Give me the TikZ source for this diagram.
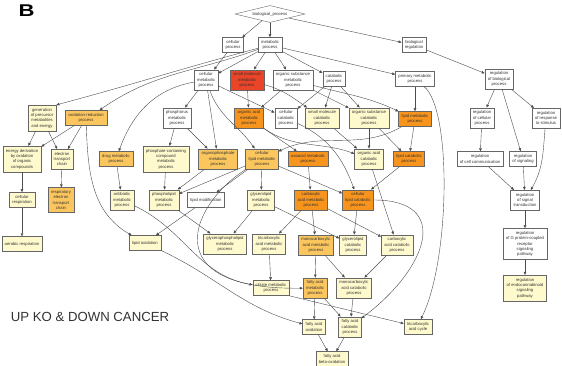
\documentclass[tikz,border=0pt]{standalone}
\usepackage{fontspec}
\setmainfont{Liberation Sans}
\usetikzlibrary{shapes.geometric,arrows.meta,shadows}
\definecolor{goyellow}{HTML}{FFFACD}
\definecolor{golight}{HTML}{FCC65E}
\definecolor{goorange}{HTML}{F7941E}
\definecolor{gored}{HTML}{EA4429}
\begin{document}
\begin{tikzpicture}[x=1pt,y=1pt,
	box/.style={draw=black!60,line width=0.4pt,align=center,font=\fontsize{4.2}{5.3}\selectfont,text=black!80,inner xsep=3pt,inner ysep=3pt,minimum height=15pt,drop shadow={shadow xshift=0.6pt,shadow yshift=-0.6pt,fill=black!40,opacity=1}},
	wbox/.style={box,fill=white},
	ybox/.style={box,fill=goyellow},
	lbox/.style={box,fill=golight},
	obox/.style={box,fill=goorange},
	rbox/.style={box,fill=gored},
	dia/.style={diamond,aspect=4,draw=black!60,line width=0.4pt,fill=white,font=\fontsize{4.2}{5.3}\selectfont,text=black!80,inner sep=0pt,minimum width=70pt,minimum height=17pt},
	arr/.style={draw=black!70,line width=0.4pt,-{Triangle[length=3pt,width=2.6pt]}}]
	\fill[white] (0,0) rectangle (562,-365);
	\useasboundingbox (0,0) rectangle (562,-365);
	\node[font=\fontsize{17}{20}\selectfont\bfseries,xscale=1.3] (panel) at (26.5,-11) {B};
	\node[font=\fontsize{13.2}{15}\selectfont,text=black!80] (cond) at (90,-317) {UP KO \& DOWN CANCER};
	\node[dia] (bp) at (270,-14) {biological\_process};
	\node[wbox] (cp) at (233,-45) {cellular\\process};
	\node[wbox] (mp) at (270,-45) {metabolic\\process};
	\node[wbox] (br) at (414,-45) {biological\\regulation};
	\node[wbox] (cmp) at (206,-80) {cellular\\metabolic\\process};
	\node[rbox] (smm) at (247,-80) {small molecule\\metabolic\\process};
	\node[wbox] (osm) at (293,-80) {organic substance\\metabolic\\process};
	\node[wbox] (cat) at (334,-79) {catabolic\\process};
	\node[wbox] (pm) at (415,-79) {primary metabolic\\process};
	\node[wbox] (rbp) at (499,-79) {regulation\\of biological\\process};
	\node[ybox] (gen) at (42,-118) {generation\\of precursor\\metabolites\\and energy};
	\node[lbox] (oxr) at (86,-118) {oxidation-reduction\\process};
	\node[wbox] (phm) at (177,-118) {phosphorus\\metabolic\\process};
	\node[obox] (oam) at (249,-118) {organic acid\\metabolic\\process};
	\node[wbox] (ccat) at (286,-118) {cellular\\catabolic\\process};
	\node[ybox] (smc) at (322,-118) {small molecule\\catabolic\\process};
	\node[ybox] (osc) at (369,-118) {organic substance\\catabolic\\process};
	\node[obox] (lm) at (415,-119) {lipid metabolic\\process};
	\node[wbox] (rcp) at (482,-118) {regulation\\of cellular\\process};
	\node[wbox] (rrs) at (546,-118) {regulation\\of response\\to stimulus};
	\node[ybox] (edo) at (22,-159) {energy derivation\\by oxidation\\of organic\\compounds};
	\node[ybox] (etc) at (62,-159) {electron\\transport\\chain};
	\node[lbox] (drug) at (116,-159) {drug metabolic\\process};
	\node[ybox] (pcc) at (166,-159) {phosphate-containing\\compound\\metabolic\\process};
	\node[lbox] (orgp) at (218,-159) {organophosphate\\metabolic\\process};
	\node[lbox] (clm) at (262,-159) {cellular\\lipid metabolic\\process};
	\node[obox] (oxo) at (308,-159) {oxoacid metabolic\\process};
	\node[ybox] (oac) at (369,-159) {organic acid\\catabolic\\process};
	\node[obox] (lc) at (409,-159) {lipid catabolic\\process};
	\node[wbox] (rcc) at (480,-159) {regulation\\of cell communication};
	\node[wbox] (rsig) at (523,-159) {regulation\\of signaling};
	\node[ybox] (cr) at (22,-200) {cellular\\respiration};
	\node[lbox] (retc) at (61,-200) {respiratory\\electron\\transport\\chain};
	\node[ybox] (abm) at (122,-200) {antibiotic\\metabolic\\process};
	\node[ybox] (plm) at (164,-200) {phospholipid\\metabolic\\process};
	\node[wbox] (lmod) at (206,-200) {lipid modification};
	\node[ybox] (glm) at (261,-200) {glycerolipid\\metabolic\\process};
	\node[obox] (cam) at (311,-200) {carboxylic\\acid metabolic\\process};
	\node[obox] (clc) at (358,-200) {cellular\\lipid catabolic\\process};
	\node[wbox] (rst) at (525,-200) {regulation\\of signal\\transduction};
	\node[ybox] (aer) at (22,-244) {aerobic respiration};
	\node[ybox] (lox) at (145,-243) {lipid oxidation};
	\node[ybox] (gplm) at (225,-244) {glycerophospholipid\\metabolic\\process};
	\node[ybox] (tcam) at (269,-244) {tricarboxylic\\acid metabolic\\process};
	\node[lbox] (mcam) at (316,-245) {monocarboxylic\\acid metabolic\\process};
	\node[ybox] (glc) at (353,-245) {glycerolipid\\catabolic\\process};
	\node[ybox] (cac) at (397,-245) {carboxylic\\acid catabolic\\process};
	\node[wbox] (rgpcr) at (525,-244) {regulation\\of G protein-coupled\\receptor\\signaling\\pathway};
	\node[ybox] (cit) at (271,-288) {citrate metabolic\\process};
	\node[lbox] (fam) at (315,-288) {fatty acid\\metabolic\\process};
	\node[ybox] (mcac) at (354,-288) {monocarboxylic\\acid catabolic\\process};
	\node[ybox] (recb) at (525,-288) {regulation\\of endocannabinoid\\signaling\\pathway};
	\node[ybox] (fao) at (314,-327) {fatty acid\\oxidation};
	\node[ybox] (fac) at (350,-327) {fatty acid\\catabolic\\process};
	\node[ybox] (tcac) at (418,-327) {tricarboxylic\\acid cycle};
	\node[ybox] (fab) at (332,-359) {fatty acid\\beta-oxidation};
	\draw[arr] (bp) -- (cp);
	\draw[arr] (bp) -- (mp);
	\draw[arr] (bp) -- (br);
	\draw[arr] (cp) -- (cmp);
	\draw[arr] (mp) -- (cmp);
	\draw[arr] (mp) -- (smm);
	\draw[arr] (mp) -- (osm);
	\draw[arr] (mp) -- (cat);
	\draw[arr] (mp) -- (pm);
	\draw[arr] (mp) to[out=195,in=15] (gen.north east);
	\draw[arr] (mp) to[out=200,in=35] (oxr.30);
	\draw[arr] (cmp) to[out=190,in=70] (drug);
	\draw[arr] (br) -- (rbp);
	\draw[arr] (gen) -- (edo);
	\draw[arr] (gen) -- (etc);
	\draw[arr] (oxr) -- (edo);
	\draw[arr] (oxr) -- (etc);
	\draw[arr] (oxr) to[out=-88,in=150] (lox);
	\draw[arr] (edo) -- (cr);
	\draw[arr] (cr) -- (aer);
	\draw[arr] (etc) -- (retc);
	\draw[arr] (drug) -- (abm);
	\draw[arr] (abm) to[out=-25,in=170] (cit);
	\draw[arr] (cmp) -- (phm);
	\draw[arr] (cmp) -- (orgp);
	\draw[arr] (cmp) to[out=-70,in=125] (clm);
	\draw[arr] (cmp) -- (ccat);
	\draw[arr] (smm) -- (oam);
	\draw[arr] (smm) to[out=-15,in=145] (smc);
	\draw[arr] (osm) -- (oam);
	\draw[arr] (osm) -- (osc);
	\draw[arr] (osm) to[out=-15,in=155] (lm);
	\draw[arr] (cat) -- (ccat);
	\draw[arr] (cat) -- (smc);
	\draw[arr] (cat) -- (osc);
	\draw[arr] (pm) -- (lm);
	\draw[arr] (pm.-40) .. controls (452,-110) and (450,-260) .. (tcac.70);
	\draw[arr] (phm) -- (pcc);
	\draw[arr] (phm) -- (orgp);
	\draw[arr] (oam) -- (oxo);
	\draw[arr] (oam) to[out=-35,in=160] (oac);
	\draw[arr] (ccat) to[out=-25,in=110] (clc);
	\draw[arr] (smc) -- (oac);
	\draw[arr] (osc) -- (oac);
	\draw[arr] (osc) -- (lc);
	\draw[arr] (lm) -- (lc);
	\draw[arr] (lm) to[out=210,in=25] (clm);
	\draw[arr] (pcc) -- (plm);
	\draw[arr] (orgp) -- (plm);
	\draw[arr] (clm) -- (plm);
	\draw[arr] (clm) -- (lmod);
	\draw[arr] (clm) -- (glm);
	\draw[arr] (clm) -- (clc);
	\draw[arr] (clm) .. controls (190,-205) and (155,-290) .. (fam);
	\draw[arr] (oxo) -- (cam);
	\draw[arr] (lc) -- (clc);
	\draw[arr] (oac) -- (cac);
	\draw[arr] (lmod) -- (lox);
	\draw[arr] (plm) -- (gplm);
	\draw[arr] (glm) -- (gplm);
	\draw[arr] (glm) -- (glc);
	\draw[arr] (cam) -- (tcam);
	\draw[arr] (cam) -- (mcam);
	\draw[arr] (cam) -- (cac);
	\draw[arr] (clc) -- (glc);
	\draw[arr] (clc) .. controls (452,-200) and (428,-268) .. (fac);
	\draw[arr] (lox) to[out=-25,in=165] (fao);
	\draw[arr] (tcam) -- (cit);
	\draw[arr] (mcam) -- (fam);
	\draw[arr] (mcam) -- (mcac);
	\draw[arr] (cac) -- (mcac);
	\draw[arr] (cit.south east) -- (tcac);
	\draw[arr] (fam) -- (fao);
	\draw[arr] (fam) -- (fac);
	\draw[arr] (mcac) -- (fac);
	\draw[arr] (fao) -- (fab);
	\draw[arr] (fac) -- (fab);
	\draw[arr] (rbp) -- (rcp);
	\draw[arr] (rbp) -- (rsig);
	\draw[arr] (rbp) -- (rrs);
	\draw[arr] (rcp) -- (rcc);
	\draw[arr] (rcc) -- (rst);
	\draw[arr] (rsig) -- (rst);
	\draw[arr] (rrs) to[out=-95,in=60] (rst);
	\draw[arr] (rst) -- (rgpcr);
	\draw[arr] (rgpcr) -- (recb);
\end{tikzpicture}
\end{document}
